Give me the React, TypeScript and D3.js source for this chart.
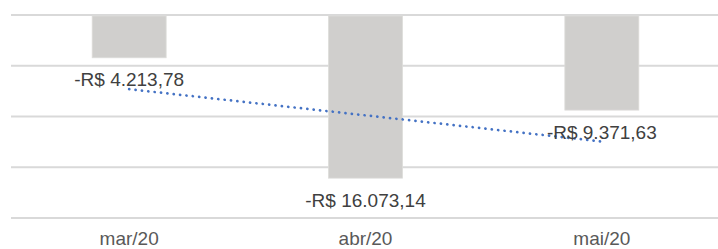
import { useEffect, useRef } from 'react';
import * as d3 from 'd3';

const categories = ['mar/20', 'abr/20', 'mai/20'];
const values = [-4213.78, -16073.14, -9371.63];
const yTicks = [0, -5000, -10000, -15000, -20000];

const W = 718;
const H = 249;

const brl = d3.formatLocale({
    decimal: ',',
    thousands: '.',
    grouping: [3],
    currency: ['R$ ', ''],
});
const fmt = (v: number) => '-' + brl.format('$,.2f')(Math.abs(v));

export default function App() {
    const svgRef = useRef<SVGSVGElement>(null);

    useEffect(() => {
        if (!svgRef.current) return;
        const svg = d3.select(svgRef.current);
        svg.selectAll('*').remove();

        const x = d3.scaleBand<string>()
            .domain(categories)
            .range([11, 720])
            .paddingInner(0.687)
            .paddingOuter(0.3435);

        const y = d3.scaleLinear()
            .domain([0, -20000])
            .range([15, 218]);

        // gridlines
        svg.selectAll('.grid')
            .data(yTicks)
            .enter()
            .append('line')
            .attr('x1', 11)
            .attr('x2', W)
            .attr('y1', d => y(d))
            .attr('y2', d => y(d))
            .attr('stroke', '#d9d9d9')
            .attr('stroke-width', 2);

        // bars
        svg.selectAll('.bar')
            .data(values)
            .enter()
            .append('rect')
            .attr('x', (_, i) => x(categories[i]) || 0)
            .attr('y', y(0) + 1)
            .attr('width', x.bandwidth())
            .attr('height', d => y(d) - y(0) - 1)
            .attr('fill', '#d0cfcd')
            .attr('stroke', '#dddcda')
            .attr('stroke-width', 0.8);

        // linear trendline
        const n = values.length;
        const xs = d3.range(n);
        const mx = d3.mean(xs) || 0;
        const my = d3.mean(values) || 0;
        const slope = d3.sum(xs, i => (i - mx) * (values[i] - my)) / d3.sum(xs, i => (i - mx) ** 2);
        const cx = (i: number) => (x(categories[i]) || 0) + x.bandwidth() / 2;
        svg.append('line')
            .attr('x1', cx(0))
            .attr('x2', cx(n - 1))
            .attr('y1', y(my + slope * (0 - mx)))
            .attr('y2', y(my + slope * (n - 1 - mx)))
            .attr('stroke', '#4472c4')
            .attr('stroke-width', 2.7)
            .attr('stroke-linecap', 'round')
            .attr('stroke-dasharray', '0.1 6.3');

        // data labels
        svg.selectAll('.value')
            .data(values)
            .enter()
            .append('text')
            .attr('x', (_, i) => cx(i))
            .attr('y', d => y(d) + 28.5)
            .attr('text-anchor', 'middle')
            .attr('fill', '#404040')
            .attr('font-family', '"Liberation Sans", Arial, sans-serif')
            .attr('font-size', 19)
            .text(d => fmt(d));

        // category labels
        svg.selectAll('.cat')
            .data(categories)
            .enter()
            .append('text')
            .attr('x', d => (x(d) || 0) + x.bandwidth() / 2)
            .attr('y', 245)
            .attr('text-anchor', 'middle')
            .attr('fill', '#595959')
            .attr('font-family', '"Liberation Sans", Arial, sans-serif')
            .attr('font-size', 19)
            .text(d => d);
    }, []);

    return (
        <svg
            ref={svgRef}
            width={W}
            height={H}
            viewBox={`0 0 ${W} ${H}`}
            style={{ position: 'absolute', left: 0, top: 0, background: '#fff' }}
        />
    );
}
